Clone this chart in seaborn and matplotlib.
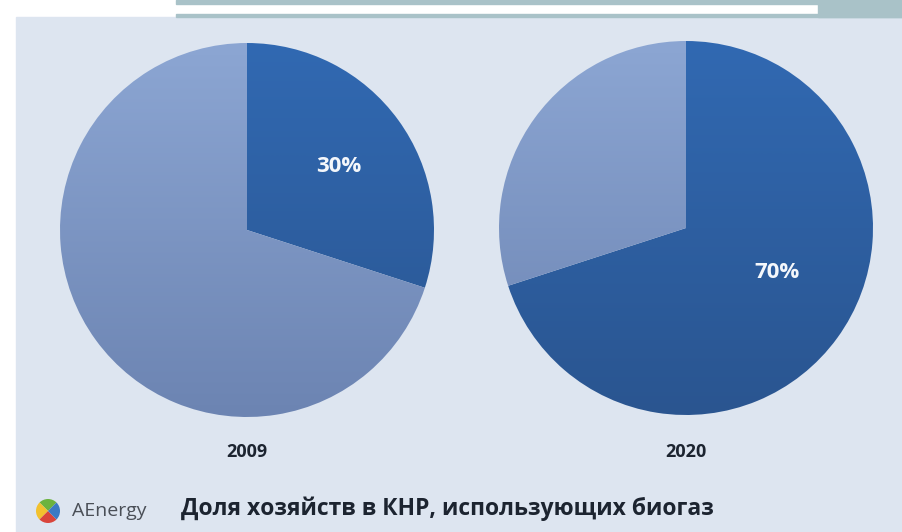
import matplotlib
matplotlib.use('Agg')
from matplotlib import pyplot as plt
from matplotlib.colors import LinearSegmentedColormap
import matplotlib.patches as mpatches
import numpy as np
import seaborn as sns

years = ['2009', '2020']
biogas_share = [30, 70]
pct_labels = ['30%', '70%']
title = 'Доля хозяйств в КНР, использующих биогаз'
brand = 'AEnergy'

sns.set_style('white')
plt.rcParams['font.family'] = ['Open Sans', 'DejaVu Sans']

W, H = 903, 532
fig = plt.figure(figsize=(W / 100, H / 100), dpi=100)
fig.patch.set_facecolor('white')
ax = fig.add_axes([0, 0, 1, 1])
ax.set_xlim(0, W)
ax.set_ylim(0, H)
ax.axis('off')

# background panel and top strip
ax.add_patch(mpatches.Rectangle((16, 0), W - 16, H - 17, color='#dde5f0', zorder=0))
ax.add_patch(mpatches.Rectangle((176, H - 4), W - 176, 4, color='#a9c2c8', zorder=1))
ax.add_patch(mpatches.Rectangle((176, H - 17), W - 176, 3, color='#a9c2c8', zorder=1))
ax.add_patch(mpatches.Rectangle((818, H - 17), W - 818, 17, color='#a9c2c8', zorder=1))

dark_cmap = LinearSegmentedColormap.from_list('dk', ['#2a5590', '#3169b2'])
light_cmap = LinearSegmentedColormap.from_list('lt', ['#6c84b2', '#8ca6d3'])
grad = np.linspace(0, 1, 256).reshape(-1, 1)

centers = [(247, H - 230), (686, H - 228)]
radius = 187
label_pos = [(339, H - 167), (777, H - 272)]

for (cx, cy), share, lab, yr, (lx, ly) in zip(centers, biogas_share, pct_labels, years, label_pos):
    wedges, _ = ax.pie([share, 100 - share], center=(cx, cy), radius=radius,
                       startangle=90, counterclock=False, frame=True,
                       wedgeprops=dict(linewidth=0))
    for w, cm in zip(wedges, [dark_cmap, light_cmap]):
        w.set_facecolor('none')
        im = ax.imshow(grad, cmap=cm, origin='lower', aspect='auto',
                       extent=(cx - radius, cx + radius, cy - radius, cy + radius),
                       zorder=2)
        im.set_clip_path(w)
    ax.text(lx, ly, lab, color='#f4f7fb', fontsize=16, fontweight='bold',
            ha='center', va='center', zorder=5)
    ax.text(cx, H - 452, yr, color='#1c2430', fontsize=13, fontweight='bold',
            ha='center', va='center', zorder=5)

# logo
ax.pie([1, 1, 1, 1], center=(48, H - 511), radius=12, startangle=45,
       colors=['#6cb33f', '#f2c12e', '#d9453b', '#3b7ac4'], frame=True,
       wedgeprops=dict(linewidth=0))
ax.text(72, H - 511, brand, color='#4a4f57', fontsize=14, ha='left', va='center')
ax.text(181, H - 509, title, color='#1c2430', fontsize=16.5, fontweight='bold',
        ha='left', va='center')

ax.set_xlim(0, W)
ax.set_ylim(0, H)
ax.set_aspect('auto')
ax.axis('off')
plt.savefig('out.png', dpi=100, facecolor='white')
